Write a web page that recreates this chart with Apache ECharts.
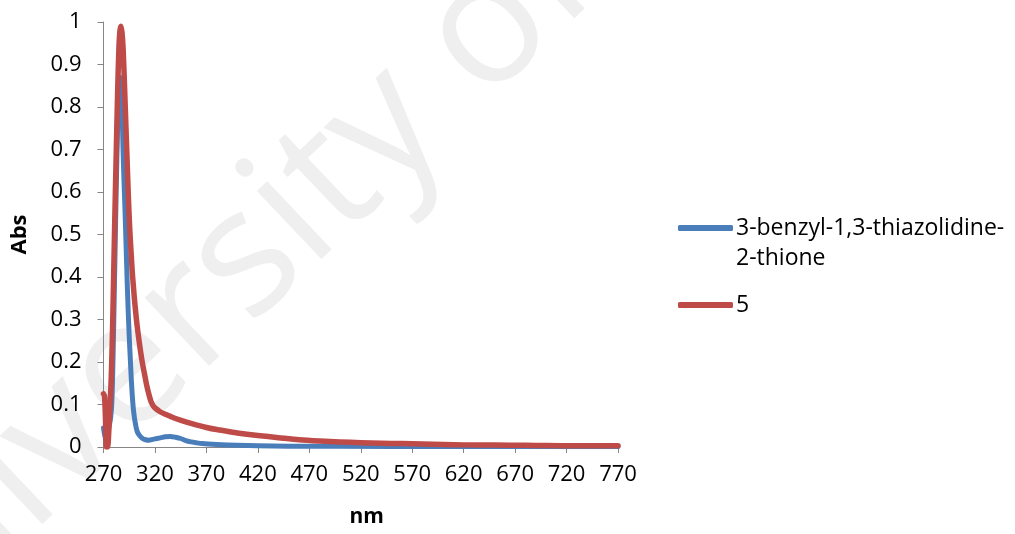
<!DOCTYPE html>
<html>
<head>
<meta charset="utf-8">
<script src="https://cdn.jsdelivr.net/npm/echarts@6/dist/echarts.min.js"></script>
<style>
html,body{margin:0;padding:0;background:#fff;}
#chart{width:1015px;height:534px;}
</style>
</head>
<body>
<div id="chart"></div>
<script>
// Wavelength ticks
var xTicks = [270, 320, 370, 420, 470, 520, 570, 620, 670, 720, 770];
var yTicks = [0, 0.1, 0.2, 0.3, 0.4, 0.5, 0.6, 0.7, 0.8, 0.9, 1];

// Series 1: 3-benzyl-1,3-thiazolidine-2-thione
var blueName = "3-benzyl-1,3-thiazolidine-2-thione";
var blueNm  = [270,271,272,273,274,275,276,277,278,279,280,281,282,283,284,285,286,287,288,289,290,291,292,293,294,295,296,297,298,299,300,301,302,303,305,308,311,314,318,322,326,330,335,340,345,350,355,360,366,380,400,420,450,500,600,770];
var blueAbs = [0.045,0.03,0.02,0.025,0.035,0.045,0.055,0.07,0.1,0.18,0.3,0.43,0.56,0.68,0.78,0.85,0.87,0.865,0.8,0.7,0.62,0.55,0.47,0.39,0.32,0.26,0.21,0.16,0.12,0.09,0.07,0.055,0.043,0.035,0.027,0.02,0.017,0.016,0.018,0.02,0.022,0.024,0.025,0.023,0.02,0.015,0.012,0.01,0.008,0.006,0.004,0.003,0.002,0.0015,0.001,0.001];

// Series 2: 5
var redName = "5";
var redNm  = [270,271,272,272.8,274,275,276,277,278,279,280,281,282,283,284,285,286,287,288,289,290,291,292,293,294,295,296,297,298,299,300,302,304,306,308,310,312,314,316,318,320,325,330,335,340,350,360,370,380,390,400,420,440,460,480,500,520,540,560,580,600,620,650,680,700,730,770];
var redAbs = [0.125,0.12,0.06,0.0,0.0,0.03,0.08,0.13,0.2,0.3,0.42,0.54,0.65,0.76,0.86,0.94,0.98,0.99,0.975,0.94,0.88,0.81,0.74,0.67,0.6,0.54,0.49,0.45,0.41,0.38,0.35,0.30,0.26,0.225,0.195,0.17,0.145,0.125,0.108,0.098,0.092,0.083,0.077,0.072,0.067,0.059,0.052,0.046,0.041,0.037,0.033,0.027,0.022,0.017,0.014,0.012,0.010,0.009,0.008,0.007,0.006,0.005,0.0045,0.004,0.0035,0.003,0.003];

function pairs(xs, ys){ var out=[]; for(var i=0;i<xs.length;i++){ out.push([xs[i], ys[i]]); } return out; }

var FONT = "'Open Sans', sans-serif";
var chart = echarts.init(document.getElementById('chart'), null, {renderer:'canvas'});
chart.setOption({
  animation: false,
  backgroundColor: '#fff',
  graphic: [{
    type: 'text', silent: true, z: -100, zlevel: 0,
    x: -173, y: 660, rotation: 0.76,
    style: { text: 'University of Malaya', fontSize: 175, fontFamily: FONT, fill: '#efefef', align: 'left', verticalAlign: 'middle' }
  }],
  grid: { left: 103.5, right: 397, top: 22, bottom: 87 },
  legend: {
    orient: 'vertical', left: 678, top: 183, padding: 0, itemGap: 17,
    icon: 'roundRect', itemWidth: 55, itemHeight: 6,
    textStyle: { fontFamily: FONT, fontSize: 23, color: '#000', lineHeight: 30, padding: [0,0,0,-2] },
    formatter: function(name){
      if (name === blueName) return '\n3-benzyl-1,3-thiazolidine-\n2-thione';
      return name;
    },
    data: [blueName, redName]
  },
  xAxis: {
    type: 'value', min: xTicks[0], max: xTicks[xTicks.length-1], interval: 50,
    name: 'nm', nameLocation: 'middle', nameGap: 60,
    nameTextStyle: { fontFamily: FONT, fontSize: 21, fontWeight: 'bold', color: '#000', padding: [0,0,0,12] },
    axisLine: { show: true, onZero: false, lineStyle: { color: '#868686', width: 1 } },
    axisTick: { show: true, length: 6, lineStyle: { color: '#868686' } },
    axisLabel: { fontFamily: FONT, fontSize: 22, color: '#000', margin: 17 },
    splitLine: { show: false }
  },
  yAxis: {
    type: 'value', min: yTicks[0], max: yTicks[yTicks.length-1], interval: 0.1,
    name: 'Abs', nameLocation: 'middle', nameGap: 73, nameRotate: 90,
    nameTextStyle: { fontFamily: FONT, fontSize: 22, fontWeight: 'bold', color: '#000' },
    axisLine: { show: true, lineStyle: { color: '#868686', width: 1 } },
    axisTick: { show: true, length: 6, lineStyle: { color: '#868686' } },
    axisLabel: { fontFamily: FONT, fontSize: 22, color: '#000', margin: 22 },
    splitLine: { show: false }
  },
  series: [
    { name: blueName, type: 'line', data: pairs(blueNm, blueAbs), showSymbol: false, symbol: 'none', smooth: 0.25,
      color: '#4A7EBB', lineStyle: { width: 5, color: '#4A7EBB', cap: 'round', join: 'round' } },
    { name: redName, type: 'line', data: pairs(redNm, redAbs), showSymbol: false, symbol: 'none', smooth: 0.25,
      color: '#BE4B48', lineStyle: { width: 5.5, color: '#BE4B48', cap: 'round', join: 'round' } }
  ]
});
</script>
</body>
</html>
